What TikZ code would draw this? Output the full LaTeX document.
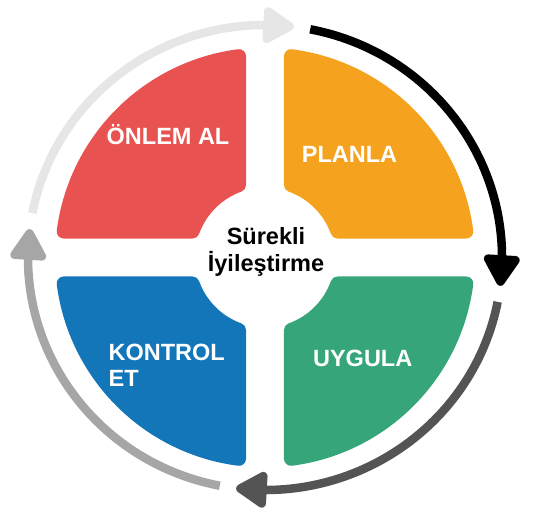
\documentclass[tikz,border=0pt]{standalone}
\usepackage{fontspec}
\setmainfont{Liberation Sans}
\usetikzlibrary{arrows.meta,bending}
\definecolor{redq}{RGB}{232,82,80}
\definecolor{orangeq}{RGB}{245,163,31}
\definecolor{blueq}{RGB}{18,118,185}
\definecolor{greenq}{RGB}{54,166,122}
\definecolor{ringlight}{RGB}{230,230,230}
\definecolor{ringdark}{RGB}{84,84,84}
\definecolor{ringmid}{RGB}{166,166,166}
\begin{document}
\begin{tikzpicture}[x=1pt,y=1pt,
    label/.style={font=\bfseries\fontsize{23.5}{26.8}\selectfont,inner sep=0pt},
    ring/.style={line width=8.5pt,-{Triangle[width=40pt,length=35pt,round,flex]}}]
        \useasboundingbox (-265,-264.5) rectangle (270,257.5);
        %% Quadrants (shrunk shape, then a thick round stroke gives the rounded corners)
        \foreach \ang/\col in {0/redq,-90/orangeq,-180/greenq,90/blueq}{
            \filldraw[\col,line width=14pt,line join=round,rotate=\ang]
                ({90+asin(26/77)}:77) -- ({90+asin(26/203)}:203)
                arc[start angle={90+asin(26/203)},end angle={180-asin(26/203)},radius=203]
                -- ({180-asin(26/77)}:77)
                arc[start angle={180-asin(26/77)},end angle={90+asin(26/77)},radius=77] -- cycle;
        }
        %% Labels
        \node[label,white,anchor=base] (onlem) at (-97,113) {ÖNLEM AL};
        \node[label,white,anchor=base] (planla) at (84.5,95) {PLANLA};
        \node[label,white,anchor=base west,align=left] (kontrol) at (-156.6,-129.3) {KONTROL\\ET};
        \node[label,white,anchor=base] (uygula) at (97.7,-109.3) {UYGULA};
        \node[label,black,anchor=base,align=center] (surekli) at (1,-13.5) {Sürekli\\İyileştirme};
        %% Cycle arrows
        \foreach \s/\e/\col in {79/-7/black,-11/-97/ringdark,-101/-187/ringmid,169/83/ringlight}
            \draw[ring,\col] ({237*cos(\s)},{232.5*sin(\s)})
                arc[start angle=\s,end angle=\e,x radius=237,y radius=232.5];
    \end{tikzpicture}
\end{document}
